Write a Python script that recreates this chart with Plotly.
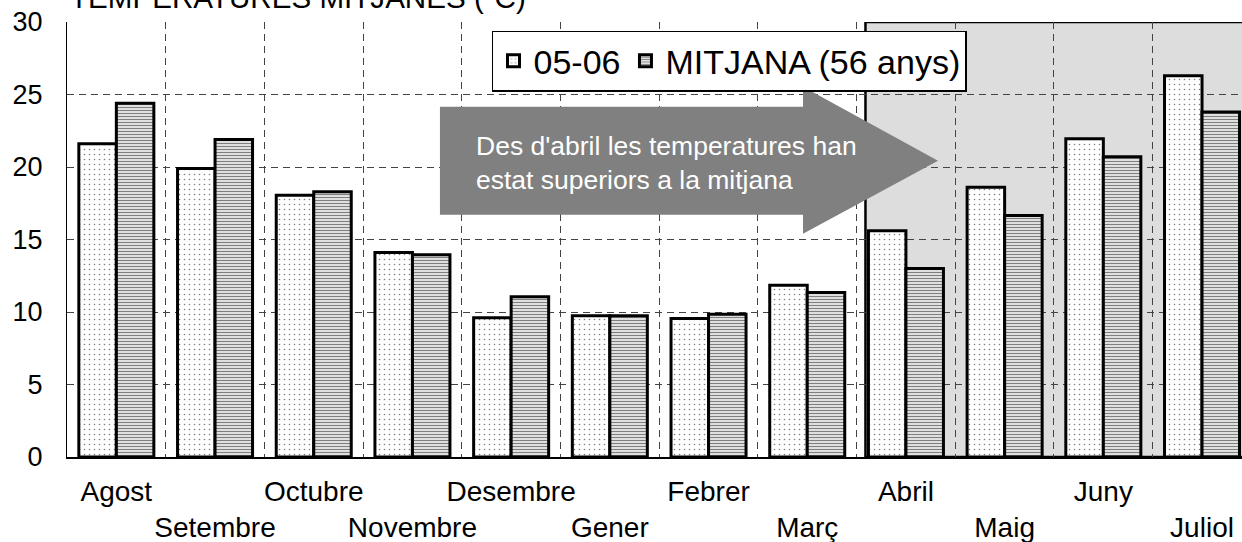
import plotly.graph_objects as go

months = ["Agost", "Setembre", "Octubre", "Novembre", "Desembre", "Gener",
          "Febrer", "Març", "Abril", "Maig", "Juny", "Juliol"]
temp_0506 = [21.6, 19.9, 18.05, 14.1, 9.6, 9.75, 9.55, 11.85, 15.6, 18.6, 21.95, 26.3]
temp_mitjana = [24.4, 21.9, 18.3, 13.95, 11.05, 9.75, 9.85, 11.35, 13.0, 16.65, 20.7, 23.8]
series_names = ["05-06", "MITJANA (56 anys)"]
title_text = "TEMPERATURES MITJANES (ºC)"
arrow_text = "Des d'abril les temperatures han<br>estat superiors a la mitjana"
highlight_from = "Abril"

FONT = "Liberation Sans, Arial, sans-serif"

# alternate tick labels on two rows
tick_labels = [m if i % 2 == 0 else "&nbsp;<br>" + m for i, m in enumerate(months)]

fig = go.Figure()
fig.add_trace(go.Bar(
    x=months, y=temp_0506, name=series_names[0],
    marker=dict(color="white", line=dict(color="black", width=3),
                pattern=dict(shape=".", fgcolor="black", bgcolor="white",
                             size=5, solidity=0.08)),
))
fig.add_trace(go.Bar(
    x=months, y=temp_mitjana, name=series_names[1],
    marker=dict(color="white", line=dict(color="black", width=3),
                pattern=dict(shape="-", fgcolor="black", bgcolor="white",
                             size=3, solidity=0.5)),
))

hi = months.index(highlight_from)
fig.add_shape(type="rect", xref="x", yref="y", x0=hi - 0.5 + 0.09, x1=len(months) + 1,
              y0=0, y1=30, fillcolor="#dddddd", line=dict(color="black", width=2.5),
              layer="below")

# arrow (paper coordinates)
arrow_path = ("M 0.3174 0.8053 L 0.6264 0.8053 L 0.6264 0.8513 L 0.7413 0.6811 "
              "L 0.6264 0.5133 L 0.6264 0.557 L 0.3174 0.557 Z")
fig.add_shape(type="path", xref="paper", yref="paper", path=arrow_path,
              fillcolor="#808080", line=dict(width=0), layer="above")

fig.add_annotation(xref="paper", yref="paper", x=0.3464, y=0.675, xanchor="left",
                   yanchor="middle", text=arrow_text, showarrow=False, align="left",
                   font=dict(family=FONT, size=26.5, color="white"))

fig.add_annotation(xref="paper", yref="paper", x=0.001, y=1.0144, xanchor="left",
                   yanchor="bottom", text=title_text, showarrow=False,
                   font=dict(family=FONT, size=29.6, color="black"))

fig.update_layout(
    width=1242, height=542,
    margin=dict(l=67, r=0, t=22.3, b=84.7, autoexpand=False),
    paper_bgcolor="white", plot_bgcolor="white",
    barmode="group", bargap=0.24, bargroupgap=0,
    font=dict(family=FONT, color="black"),
    legend=dict(orientation="h", x=0.3617, y=0.98, xanchor="left", yanchor="top",
                font=dict(family=FONT, size=34, color="black"),
                bgcolor="white", bordercolor="black", borderwidth=1.5),
    xaxis=dict(type="category", range=[-0.5, 11.405], tickson="boundaries",
               tickmode="array", tickvals=months, ticktext=tick_labels,
               tickangle=0, automargin=False, ticklabeloverflow="allow",
               showgrid=True, gridcolor="#444444", gridwidth=1, griddash="7px,5px",
               showline=True, linecolor="black", linewidth=2, ticks="",
               tickfont=dict(family=FONT, size=28, color="black"),
               ticklabelstandoff=8),
    yaxis=dict(range=[0, 30], tickvals=[0, 5, 10, 15, 20, 25, 30], automargin=False,
               ticklabeloverflow="allow",
               showgrid=True, gridcolor="#444444", gridwidth=1, griddash="7px,5px",
               zeroline=False, showline=True, linecolor="black", linewidth=1,
               ticks="", tickfont=dict(family=FONT, size=27, color="black"),
               ticklabelstandoff=18),
)

fig.write_html("out.html", config={"displayModeBar": False},
               post_script="document.body.style.margin='0px';")
